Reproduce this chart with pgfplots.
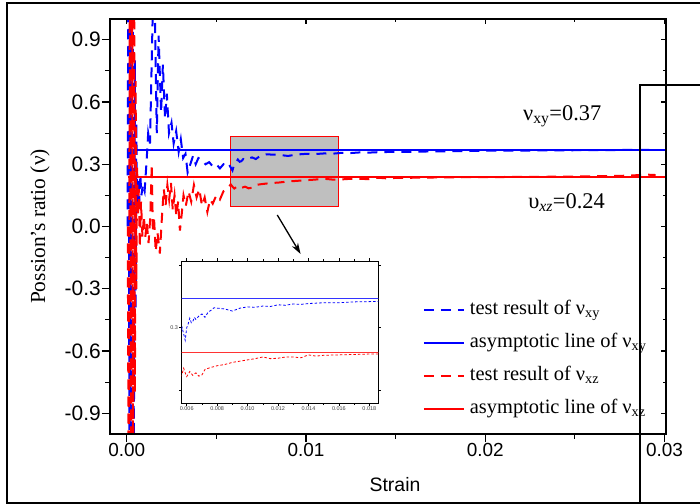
\documentclass[border=0pt]{standalone}
\usepackage{fontspec}
\setmainfont{Liberation Serif}
\newfontfamily\arial{Liberation Sans}
\usepackage{pgfplots}
\pgfplotsset{compat=1.18}
\usepackage{pgfplotstable}
\usetikzlibrary{arrows.meta}

\pgfplotstableread{
x y
0.00005 0.00
0.00010 1.50
0.00016 -1.40
0.00022 1.30
0.00028 -1.50
0.00034 1.20
0.00040 -1.10
0.00046 0.80
0.00050 -0.40
0.00054 0.50
0.00058 0.10
0.00064 0.22
0.00070 0.12
0.00076 0.25
0.00082 0.15
0.00090 0.20
0.00100 0.17
0.00110 0.30
0.00120 0.45
0.00130 0.40
0.00152 1.30
0.00168 0.45
0.00178 0.92
0.00192 0.55
0.00202 0.78
0.00214 0.52
0.00224 0.64
0.00236 0.45
0.00250 0.50
0.00262 0.40
0.00276 0.46
0.00290 0.36
0.00302 0.42
0.00315 0.33
0.00328 0.35
0.00340 0.26
0.00355 0.30
0.00370 0.34
0.00385 0.30
0.00400 0.33
0.00420 0.32
0.00440 0.30
0.00460 0.31
0.00480 0.29
0.00500 0.30
0.00520 0.28
0.00540 0.30
0.00560 0.29
0.00570 0.300
0.00580 0.285
0.00590 0.270
0.00600 0.300
0.00610 0.310
0.00620 0.323
0.00630 0.312
0.00640 0.315
0.00650 0.325
0.00660 0.320
0.00680 0.328
0.00700 0.333
0.00720 0.325
0.00740 0.337
0.00760 0.342
0.00780 0.348
0.00800 0.347
0.00850 0.345
0.00900 0.340
0.00950 0.347
0.01000 0.350
0.01050 0.349
0.01100 0.352
0.01150 0.351
0.01200 0.355
0.01250 0.354
0.01300 0.357
0.01350 0.356
0.01400 0.358
0.01500 0.360
0.01600 0.360
0.01700 0.362
0.01850 0.363
0.02000 0.365
0.02200 0.366
0.02400 0.367
0.02600 0.368
0.02800 0.369
0.02950 0.370
}\dataxy

\pgfplotstableread{
x y
0.00006 0.00
0.00012 -1.50
0.00018 1.50
0.00024 -1.40
0.00030 1.40
0.00036 -1.30
0.00042 1.10
0.00046 -0.80
0.00050 0.70
0.00054 -0.30
0.00058 0.30
0.00063 0.05
0.00068 0.18
0.00073 -0.10
0.00080 0.12
0.00088 -0.05
0.00096 0.05
0.00104 -0.05
0.00112 0.02
0.00122 -0.08
0.00132 0.05
0.00140 0.30
0.00146 -0.03
0.00152 0.05
0.00162 -0.12
0.00172 -0.03
0.00185 -0.13
0.00197 0.05
0.00207 0.18
0.00217 0.10
0.00227 0.20
0.00237 0.13
0.00247 0.21
0.00257 0.08
0.00267 0.15
0.00277 0.05
0.00287 0.12
0.00297 -0.02
0.00307 0.06
0.00317 0.15
0.00330 0.10
0.00345 0.17
0.00360 0.12
0.00375 0.20
0.00390 0.14
0.00405 0.18
0.00420 0.10
0.00435 0.14
0.00450 0.07
0.00465 0.13
0.00480 0.11
0.00500 0.15
0.00520 0.13
0.00540 0.17
0.00560 0.180
0.00570 0.190
0.00580 0.203
0.00590 0.192
0.00600 0.183
0.00620 0.195
0.00640 0.186
0.00660 0.192
0.00680 0.184
0.00700 0.187
0.00720 0.200
0.00750 0.204
0.00800 0.209
0.00850 0.212
0.00900 0.217
0.00950 0.220
0.01000 0.223
0.01050 0.226
0.01100 0.230
0.01150 0.226
0.01200 0.227
0.01250 0.230
0.01300 0.230
0.01350 0.228
0.01400 0.235
0.01450 0.232
0.01500 0.234
0.01600 0.235
0.01700 0.236
0.01800 0.237
0.02000 0.238
0.02200 0.239
0.02400 0.240
0.02600 0.242
0.02800 0.245
0.02900 0.250
0.02950 0.248
}\dataxz

\begin{document}
\begin{tikzpicture}
\useasboundingbox (0bp,0bp) rectangle (700bp,504bp);
\begin{axis}[
  at={(110bp,70bp)}, anchor=south west,
  scale only axis, width=556bp, height=415bp,
  xmin=-0.00093, xmax=0.03008, ymin=-1, ymax=1,
  axis line style={line width=1.3bp},
  tick style={line width=1.1bp, black},
  tick align=outside, xtick pos=left, ytick pos=left,
  major tick length=8bp, minor tick length=5bp,
  xtick={0,0.01,0.02,0.03}, minor xtick={0.005,0.015,0.025},
  ytick={-0.9,-0.6,-0.3,0,0.3,0.6,0.9},
  minor ytick={-0.75,-0.45,-0.15,0.15,0.45,0.75},
  scaled x ticks=false, scaled y ticks=false,
  /pgf/number format/assume math mode=true,
  xticklabel style={/pgf/number format/fixed, /pgf/number format/fixed zerofill, /pgf/number format/precision=2, inner sep=1bp, font=\fontsize{19}{19}\arial},
  yticklabel style={/pgf/number format/fixed, /pgf/number format/fixed zerofill, /pgf/number format/precision=1, inner sep=1bp, font=\fontsize{21}{21}\arial},
  xlabel={Strain},
  xlabel style={at={(axis description cs:0.5126,-0.123)}, anchor=center, font=\fontsize{19.5}{19.5}\arial},
  ylabel={Possion's ratio (ν)},
  ylabel style={at={(axis description cs:-0.126,0.5)}, anchor=center, font=\fontsize{21.5}{21.5}\selectfont},
  legend image code/.code={\draw[#1] (0bp,0bp) -- (40bp,0bp);},
  legend style={at={(rel axis cs:0.5624,0.323)}, anchor=north west, draw=none, fill=none,
    font=\fontsize{20.5}{20.5}\selectfont, inner sep=0bp, row sep=13bp, column sep=5bp,
    nodes={inner sep=0bp, text height=14bp, text depth=6bp},
    cells={anchor=west}},
]
\addplot[draw=red, line width=1bp, fill=gray!50, forget plot] coordinates {(0.0058,0.095) (0.0058,0.436) (0.01182,0.436) (0.01182,0.095)} --cycle;
\addplot[blue, line width=2bp, dash pattern=on 10bp off 7bp] table[x=x,y=y] {\dataxy};
\addlegendentry{test result of ν\textsubscript{xy}}
\addplot[blue, line width=2bp] coordinates {(0.00005,0.37) (0.0302,0.37)};
\addlegendentry{asymptotic line of ν\textsubscript{xy}}
\addplot[red, line width=2bp, dash pattern=on 10bp off 7bp] table[x=x,y=y] {\dataxz};
\addlegendentry{test result of ν\textsubscript{xz}}
\addplot[red, line width=2bp] coordinates {(0.00005,0.24) (0.0302,0.24)};
\addlegendentry{asymptotic line of ν\textsubscript{xz}}
\node[anchor=base west, inner sep=0bp, font=\fontsize{22.5}{22.5}\selectfont] at (axis cs:0.0221,0.513) {ν\textsubscript{xy}=0.37};
\node[anchor=base west, inner sep=0bp, font=\fontsize{22.5}{22.5}\selectfont] at (axis cs:0.02239,0.089) {υ\textsubscript{\textit{xz}}=0.24};
\draw[line width=1.3bp, -{Stealth[length=11bp,width=7bp]}] (axis cs:0.0084,0.0554) -- (axis cs:0.0097,-0.1325);
\end{axis}
% top/right inward ticks
\begin{axis}[
  at={(110bp,70bp)}, anchor=south west,
  scale only axis, width=556bp, height=415bp,
  xmin=-0.00093, xmax=0.03008, ymin=-1, ymax=1,
  axis line style={line width=1.3bp},
  tick style={line width=1.1bp, black},
  tick align=inside, xtick pos=right, ytick pos=right,
  major tick length=5bp, minor tick length=3bp,
  xtick={0,0.01,0.02,0.03}, minor xtick={0.005,0.015,0.025},
  ytick={-0.9,-0.6,-0.3,0,0.3,0.6,0.9},
  minor ytick={-0.75,-0.45,-0.15,0.15,0.45,0.75},
  scaled x ticks=false, scaled y ticks=false,
  xticklabels={}, yticklabels={},
]
\end{axis}
% inset
\begin{axis}[
  at={(181.7bp,100.7bp)}, anchor=south west,
  scale only axis, width=196.6bp, height=142.3bp,
  xmin=0.00567, xmax=0.01859, ymin=0.119, ymax=0.46,
  axis background/.style={fill=white},
  axis line style={line width=0.8bp},
  tick style={line width=0.6bp, black},
  tick align=outside, tick pos=both,
  major tick length=2.5bp, minor tick length=1.5bp,
  xtick={0.006,0.008,0.010,0.012,0.014,0.016,0.018},
  minor xtick={0.007,0.009,0.011,0.013,0.015,0.017},
  ytick={0.15,0.3,0.45}, yticklabels={,0.3,},
  scaled x ticks=false, scaled y ticks=false,
  /pgf/number format/assume math mode=true,
  xticklabel style={/pgf/number format/fixed, /pgf/number format/fixed zerofill, /pgf/number format/precision=3, inner sep=1bp},
  yticklabel style={inner sep=1bp},
  tick label style={font=\fontsize{5.5}{5.5}\arial, text=black!75},
]
\addplot[blue, line width=0.8bp, dash pattern=on 2.5bp off 2bp] table[x=x,y=y] {\dataxy};
\addplot[blue!80, line width=0.9bp] coordinates {(0.005,0.37) (0.019,0.37)};
\addplot[red, line width=0.8bp, dash pattern=on 2.5bp off 2bp] table[x=x,y=y] {\dataxz};
\addplot[red!80, line width=0.9bp] coordinates {(0.005,0.24) (0.019,0.24)};
\end{axis}
% outer frame and stray rectangle
\draw[line width=2.5bp] (7bp,1bp) rectangle (703bp,501bp);
\draw[line width=2.4bp] (710bp,419bp) -- (640bp,419bp) -- (640bp,-10bp);
\end{tikzpicture}
\end{document}
